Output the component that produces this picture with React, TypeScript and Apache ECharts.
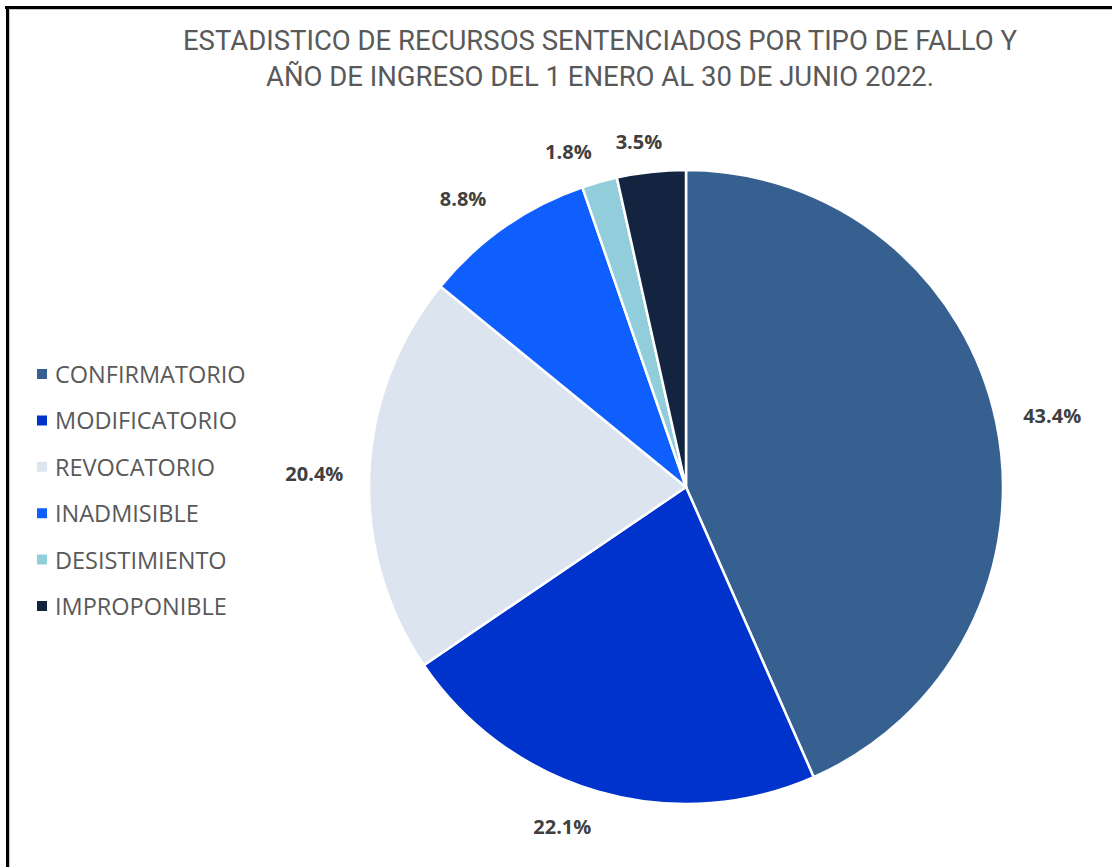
import React, { useEffect, useRef } from "react";
import * as echarts from "echarts";

const categories = [
  "CONFIRMATORIO",
  "MODIFICATORIO",
  "REVOCATORIO",
  "INADMISIBLE",
  "DESISTIMIENTO",
  "IMPROPONIBLE",
];
const values = [43.4, 22.1, 20.4, 8.8, 1.8, 3.5];
const colors = ["#36608F", "#0033CC", "#DCE4F0", "#0F5FFF", "#92CDDC", "#12243F"];
const titleLines = [
  "ESTADISTICO DE RECURSOS SENTENCIADOS POR TIPO DE FALLO Y",
  "AÑO DE INGRESO DEL 1 ENERO AL 30 DE JUNIO 2022.",
];
// small nudges of the outside labels (Excel "best fit" placement)
const labelNudges = [
  [9, 4],
  [-23, -11],
  [-7, 3],
  [-14, 11],
  [-18, 16],
  [-7, 17],
];

export default function App() {
  const ref = useRef<HTMLDivElement>(null);
  useEffect(() => {
    if (!ref.current) return;
    const chart = echarts.init(ref.current, undefined, { renderer: "svg" });
    const data = categories.map((name, i) => ({
      name,
      value: values[i],
      itemStyle: { color: colors[i] },
    }));
    const titleStyle = {
      textAlign: "center",
      textVerticalAlign: "middle",
      font: "27.5px Roboto",
      fill: "#595959",
    };
    chart.setOption({
      animation: false,
      backgroundColor: "#ffffff",
      graphic: [
        { type: "line", shape: { x1: 5, y1: 7.5, x2: 1112, y2: 7.5 }, style: { stroke: "#000", lineWidth: 3 } },
        { type: "line", shape: { x1: 7.5, y1: 6, x2: 7.5, y2: 867 }, style: { stroke: "#000", lineWidth: 3 } },
        { type: "line", shape: { x1: 9, y1: 9.5, x2: 1112, y2: 9.5 }, style: { stroke: "#c8c8c8", lineWidth: 1 } },
        { type: "line", shape: { x1: 9.5, y1: 9, x2: 9.5, y2: 867 }, style: { stroke: "#c8c8c8", lineWidth: 1 } },
        { type: "text", x: 600, y: 40, style: { ...titleStyle, text: titleLines[0] } },
        { type: "text", x: 600, y: 76, style: { ...titleStyle, text: titleLines[1] } },
      ],
      legend: {
        orient: "vertical",
        left: 30,
        top: 357,
        icon: "rect",
        itemWidth: 12,
        itemHeight: 12,
        itemGap: 22.4,
        data: categories,
        textStyle: {
          fontFamily: "Open Sans",
          fontSize: 23.5,
          color: "#595959",
          padding: [0, 0, 0, 2],
        },
      },
      series: [
        {
          type: "pie",
          center: [686, 487],
          radius: 317,
          startAngle: 90,
          clockwise: true,
          data,
          label: { show: false },
          labelLine: { show: false },
          itemStyle: { borderColor: "#ffffff", borderWidth: 2.5 },
          emphasis: { disabled: true },
          silent: true,
        },
        {
          type: "pie",
          center: [686, 487],
          radius: [350, 374],
          startAngle: 90,
          clockwise: true,
          data: categories.map((name, i) => ({
            name,
            value: values[i],
            label: { offset: labelNudges[i] },
          })),
          itemStyle: { color: "rgba(0,0,0,0)" },
          label: {
            show: true,
            position: "inside",
            formatter: (p: any) => `${Number(p.value).toFixed(1)}%`,
            fontFamily: "Open Sans",
            fontWeight: "bold",
            fontSize: 20,
            color: "#404040",
          },
          labelLine: { show: false },
          emphasis: { disabled: true },
          silent: true,
        },
      ],
    });
    return () => chart.dispose();
  }, []);
  return (
    <div
      ref={ref}
      style={{ position: "absolute", left: 0, top: 0, width: 1112, height: 867 }}
    />
  );
}
